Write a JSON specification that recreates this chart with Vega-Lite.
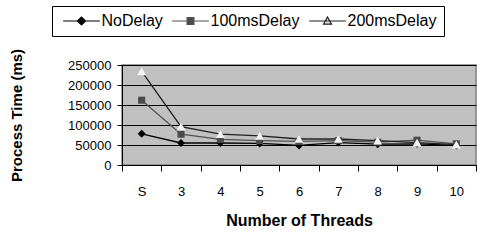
{
  "$schema": "https://vega.github.io/schema/vega-lite/v6.json",
  "width": 354,
  "height": 100,
  "autosize": "none",
  "padding": {"left": 122, "top": 65, "right": 3, "bottom": 85},
  "background": "#ffffff",
  "config": {
    "font": "Liberation Sans",
    "view": {"fill": "#C0C0C0", "stroke": "#808080", "strokeWidth": 1.5},
    "axis": {"labelColor": "#000", "titleColor": "#000", "domainColor": "#000", "tickColor": "#000", "labelFont": "Liberation Sans", "titleFont": "Liberation Sans"}
  },
  "data": {
    "values": [
      {"threads": "S", "series": "NoDelay", "time": 78000},
      {"threads": "3", "series": "NoDelay", "time": 55000},
      {"threads": "4", "series": "NoDelay", "time": 55000},
      {"threads": "5", "series": "NoDelay", "time": 54000},
      {"threads": "6", "series": "NoDelay", "time": 49000},
      {"threads": "7", "series": "NoDelay", "time": 56000},
      {"threads": "8", "series": "NoDelay", "time": 52000},
      {"threads": "9", "series": "NoDelay", "time": 53000},
      {"threads": "10", "series": "NoDelay", "time": 49000},
      {"threads": "S", "series": "100msDelay", "time": 162000},
      {"threads": "3", "series": "100msDelay", "time": 77000},
      {"threads": "4", "series": "100msDelay", "time": 64000},
      {"threads": "5", "series": "100msDelay", "time": 61000},
      {"threads": "6", "series": "100msDelay", "time": 59000},
      {"threads": "7", "series": "100msDelay", "time": 61000},
      {"threads": "8", "series": "100msDelay", "time": 57000},
      {"threads": "9", "series": "100msDelay", "time": 62000},
      {"threads": "10", "series": "100msDelay", "time": 53000},
      {"threads": "S", "series": "200msDelay", "time": 234000},
      {"threads": "3", "series": "200msDelay", "time": 96000},
      {"threads": "4", "series": "200msDelay", "time": 77000},
      {"threads": "5", "series": "200msDelay", "time": 73000},
      {"threads": "6", "series": "200msDelay", "time": 65000},
      {"threads": "7", "series": "200msDelay", "time": 65000},
      {"threads": "8", "series": "200msDelay", "time": 61000},
      {"threads": "9", "series": "200msDelay", "time": 56000},
      {"threads": "10", "series": "200msDelay", "time": 51000}
    ]
  },
  "encoding": {
    "x": {
      "field": "threads", "type": "nominal",
      "sort": ["S", "3", "4", "5", "6", "7", "8", "9", "10"],
      "scale": {"type": "band", "paddingInner": 0, "paddingOuter": 0},
      "axis": {"title": "Number of Threads", "labelAngle": 0, "tickBand": "extent", "tickSize": 6, "labelPadding": 14, "labelFontSize": 13, "titleFontSize": 16, "titleFontWeight": "bold", "titlePadding": 14, "grid": false}
    },
    "y": {
      "field": "time", "type": "quantitative",
      "scale": {"domain": [0, 250000]},
      "axis": {"title": "Process Time (ms)", "values": [0, 50000, 100000, 150000, 200000, 250000], "format": "d", "tickSize": 5, "labelPadding": 6, "labelFontSize": 13, "titleFontSize": 15, "titleFontWeight": "bold", "titlePadding": 43, "grid": true, "gridColor": "#000", "gridOpacity": 1, "gridWidth": 1}
    }
  },
  "layer": [
    {
      "mark": {"type": "line", "strokeWidth": 1.3},
      "encoding": {
        "detail": {"field": "series"},
        "stroke": {
          "field": "series", "type": "nominal",
          "scale": {"domain": ["NoDelay", "100msDelay", "200msDelay"], "range": ["#000000", "#505050", "#202020"]},
          "legend": {
            "title": null, "orient": "none", "direction": "horizontal",
            "legendX": -70, "legendY": -59,
            "strokeColor": "#000", "fillColor": "#fff",
            "padding": 7, "columnPadding": 5,
            "labelFontSize": 16, "labelFont": "Liberation Sans", "labelColor": "#000",
            "symbolSize": 64, "symbolOffset": 14.5, "labelOffset": 12, "symbolStrokeWidth": 1.2,
            "encode": {
              "symbols": {
                "update": {
                  "shape": {"signal": "datum.value === 'NoDelay' ? 'M -4.6 0 L 4.6 0 M -1 0 L 0 -1 L 1 0 L 0 1 Z' : datum.value === '100msDelay' ? 'M -4.6 0 L 4.6 0 M -0.85 -0.85 L 0.85 -0.85 L 0.85 0.85 L -0.85 0.85 Z' : 'M -4.6 0 L 4.6 0 M -1 0.8 L 0 -1 L 1 0.8 Z'"},
                  "fill": {"signal": "datum.value === 'NoDelay' ? '#000000' : datum.value === '100msDelay' ? '#4a4a4a' : '#e8e8e8'"},
                  "fillOpacity": {"value": 1}
                }
              }
            }
          }
        }
      }
    },
    {
      "transform": [{"filter": "datum.series === 'NoDelay'"}],
      "mark": {"type": "point", "shape": "diamond", "filled": true, "fill": "#000000", "opacity": 1, "strokeWidth": 0, "size": 64}
    },
    {
      "transform": [{"filter": "datum.series === '100msDelay'"}],
      "mark": {"type": "point", "shape": "square", "filled": true, "fill": "#4a4a4a", "opacity": 1, "strokeWidth": 0, "size": 50}
    },
    {
      "transform": [{"filter": "datum.series === '200msDelay'"}],
      "mark": {"type": "point", "shape": "triangle-up", "filled": true, "fill": "#f4f4f4", "opacity": 1, "strokeWidth": 0, "size": 80}
    }
  ]
}
